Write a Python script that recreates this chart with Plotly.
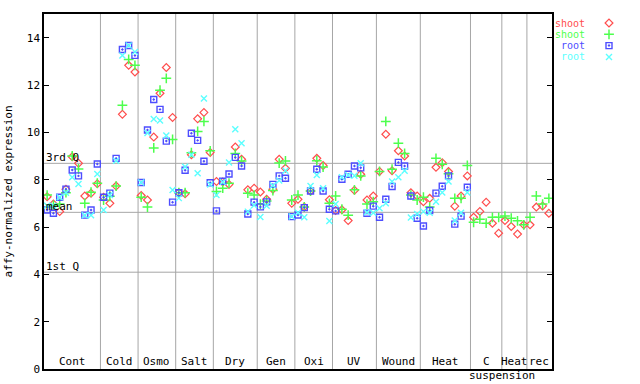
import plotly.graph_objects as go

# ---------------- data ----------------
categories = ["Cont", "Cold", "Osmo", "Salt", "Dry", "Gen", "Oxi", "UV", "Wound", "Heat", "C", "Heat", "rec"]
cat_counts = [9, 6, 6, 6, 7, 6, 6, 7, 7, 8, 5, 4, 4]

shoot_red = [
    7.28, 6.97, 6.65, 7.6, 8.97, 8.69, 7.31, 7.43, 7.83,      # Cont
    7.26, 7.0, 7.73, 10.76, 12.83, 12.55,                     # Cold
    7.33, 7.14, 9.8, 11.65, 12.74, 10.63,                     # Osmo
    7.45, 7.4, 9.05, 10.57, 10.84, 9.15,                      # Salt
    7.92, 7.9, 7.8, 9.38, 8.86, 7.57, 7.64,                   # Dry
    7.48, 7.17, 7.6, 8.86, 8.48, 7.0,                         # Gen
    7.17, 6.85, 7.52, 8.9, 8.6, 7.15,                         # Oxi
    6.7, 6.73, 6.27, 7.55, 8.23, 7.14, 7.31,                  # UV
    8.35, 9.92, 8.38, 9.22, 9.0, 7.45, 7.31,                  # Wound
    7.07, 7.21, 8.52, 8.72, 8.34, 6.88, 7.31, 8.16,           # Heat
    6.41, 6.66, 7.05, 6.16, 5.74,                             # C suspension
    6.27, 6.02, 5.7, 6.09,                                    # Heat
    6.09, 6.84, 6.89, 6.58,                                   # rec
]
shoot_green = [
    7.35, 6.91, 6.97, 7.45, 9.0, 8.45, 7.0, 7.47, 7.85,
    7.14, 7.3, 7.73, 11.14, 13.08, 12.83,
    7.26, 6.84, 9.34, 11.78, 12.28, 9.7,
    7.45, 7.45, 9.14, 10.04, 10.46, 9.22,
    7.5, 7.64, 7.85, 9.11, 8.79, 7.43, 7.35,
    6.97, 7.1, 7.54, 8.7, 8.79, 7.14,
    7.35, 6.85, 7.52, 8.8, 8.53, 7.0,
    7.31, 6.75, 6.5, 7.57, 8.16, 6.97, 7.07,
    8.35, 10.46, 8.44, 9.54, 9.11, 7.35, 7.14,
    7.26, 6.84, 8.9, 8.65, 8.25, 7.21, 7.21, 8.6,
    6.2, 6.33, 6.16, 6.41, 6.41,
    6.46, 6.37, 6.26, 6.09,
    6.41, 7.31, 6.97, 7.21,
]
root_blue = [
    6.72, 6.58, 7.26, 7.6, 8.41, 8.16, 6.5, 6.72, 8.66,
    7.26, 7.43, 8.9, 13.5, 13.67, 13.25,
    7.88, 10.1, 11.39, 10.97, 9.63, 7.05,
    7.45, 8.4, 9.96, 9.66, 8.78, 7.87,
    6.68, 7.93, 8.24, 8.94, 8.58, 6.55, 7.05,
    6.85, 7.06, 7.8, 8.16, 8.06, 6.44,
    6.51, 6.82, 7.52, 8.44, 7.52, 6.75,
    6.68, 8.02, 8.23, 8.58, 8.5, 6.58, 6.88,
    6.41, 7.17, 7.71, 8.73, 8.58, 7.31, 6.37,
    6.04, 6.7, 7.43, 7.72, 8.16, 6.12, 6.46, 7.68,
    None, None, None, None, None,
    None, None, None, None,
    None, None, None, None,
]
root_cyan = [
    6.9, 6.9, 7.26, 7.45, 8.1, 7.82, 6.5, 6.5, 8.24,
    6.72, 7.35, 8.8, 13.25, 13.67, 13.4,
    7.88, 9.97, 10.56, 10.5, 9.87, 7.56,
    7.22, 8.55, 9.05, 8.27, 11.43, 7.8,
    7.35, 7.9, 8.73, 10.13, 9.54, 6.65, 6.92,
    6.42, 6.9, 7.75, 7.96, 8.38, 6.44,
    6.6, 6.41, 7.73, 8.2, 7.64, 6.25,
    6.97, 8.1, 8.2, 8.17, 8.69, 6.62, 6.6,
    6.79, 7.0, 7.92, 8.1, 8.38, 6.4, 6.55,
    6.65, 6.6, 7.07, 7.46, 7.92, 6.27, 6.6, 7.46,
    None, None, None, None, None,
    None, None, None, None,
    None, None, None, None,
]

quartile_3rd = 8.69
mean_value = 6.62
quartile_1st = 4.09

y_ticks = [0, 2, 4, 6, 8, 10, 12, 14]
legend_labels = ["shoot", "shoot", "root", "root"]

# ---------------- styles ----------------
FONT = "DejaVu Sans Mono"
RED, GREEN, BLUE, CYAN = "#ff4d4d", "#4dff4d", "#4d4dff", "#5cffff"
GRID = "#a6a6a6"
W, H = 640, 384
L, R_EDGE, T, B = 44, 552, 14, 15
main_frac = (R_EDGE - L) / (W - L)

n = sum(cat_counts)
xs = list(range(n))

series = [
    (shoot_red, RED, "diamond-open", 6, 1.2),
    (shoot_green, GREEN, "cross-thin-open", 7, 1.5),
    (root_blue, BLUE, "square-open-dot", 6, 1.4),
    (root_cyan, CYAN, "x-thin-open", 6, 1.4),
]

fig = go.Figure()
for vals, col, sym, sz, lw in series:
    fig.add_trace(go.Scatter(
        x=xs, y=vals, mode="markers", showlegend=False,
        marker=dict(symbol=sym, size=sz, color=col, line=dict(color=col, width=lw)),
    ))

# legend in its own panel to the right of the plot (pixel-like coordinates)
legend_colors = [RED, GREEN, BLUE, CYAN]
for i, (vals, col, sym, sz, lw) in enumerate(series):
    ly = 23 + i * 11.3
    fig.add_trace(go.Scatter(
        x=[609], y=[ly], mode="markers", showlegend=False,
        xaxis="x2", yaxis="y2", cliponaxis=False,
        marker=dict(symbol=sym, size=sz, color=col, line=dict(color=col, width=lw)),
    ))
    fig.add_annotation(
        x=586, y=ly, xref="x2", yref="y2", text=legend_labels[i],
        showarrow=False, xanchor="right", yanchor="middle", borderpad=0,
        font=dict(family=FONT, size=10, color=legend_colors[i]),
    )

shapes = []
start = 0
for name, cnt in zip(categories, cat_counts):
    if start > 0:
        shapes.append(dict(type="line", xref="x", yref="y", x0=start - 0.5, x1=start - 0.5,
                           y0=0, y1=15, line=dict(color=GRID, width=1), layer="below"))
    center = start + (cnt - 1) / 2
    fig.add_annotation(x=center, y=0, xref="x", yref="y", text=name, showarrow=False,
                       yanchor="bottom", yshift=-1, font=dict(family=FONT, size=11, color="black"))
    start += cnt
c_start = sum(cat_counts[:10])
fig.add_annotation(x=c_start + cat_counts[10] - 0.5, y=0, xref="x", yref="y", text="suspension",
                   showarrow=False, yanchor="top", yshift=1, borderpad=0,
                   font=dict(family=FONT, size=11, color="black"))

for val, lab in [(quartile_3rd, "3rd Q"), (mean_value, "mean"), (quartile_1st, "1st Q")]:
    shapes.append(dict(type="line", xref="x", yref="y", x0=-0.5, x1=n - 0.5, y0=val, y1=val,
                       line=dict(color=GRID, width=1), layer="below"))
    fig.add_annotation(x=-0.5, y=val, xref="x", yref="y", text=lab, showarrow=False,
                       xanchor="left", yanchor="bottom", yshift=-3,
                       font=dict(family=FONT, size=11, color="black"))

fig.update_layout(
    width=W, height=H,
    margin=dict(l=L, r=0, t=T, b=B, pad=0, autoexpand=False),
    paper_bgcolor="white", plot_bgcolor="white",
    shapes=shapes,
    xaxis=dict(domain=[0, main_frac], range=[-0.5, n - 0.5], showgrid=False, zeroline=False,
               showticklabels=False, ticks="", showline=True, linecolor="black", linewidth=1.5,
               mirror=True, fixedrange=True, automargin=False),
    yaxis=dict(range=[0, 15], tickvals=y_ticks, showgrid=False, zeroline=False,
               ticks="inside", ticklen=5, tickcolor="black", showline=True, linecolor="black",
               linewidth=1.5, mirror="ticks", automargin=False, fixedrange=True,
               tickfont=dict(family=FONT, size=11, color="black"),
               title=dict(text="affy-normalized expression", standoff=12,
                          font=dict(family=FONT, size=11, color="black"))),
    xaxis2=dict(domain=[main_frac, 1], range=[R_EDGE, W], anchor="y2", visible=False, fixedrange=True),
    yaxis2=dict(domain=[0, 1], range=[H - B, T], anchor="x2", visible=False, fixedrange=True),
    showlegend=False,
)

fig.write_html("out.html", config={"displayModeBar": False},
               post_script="document.body.style.margin='0px';document.body.style.overflow='hidden';")
